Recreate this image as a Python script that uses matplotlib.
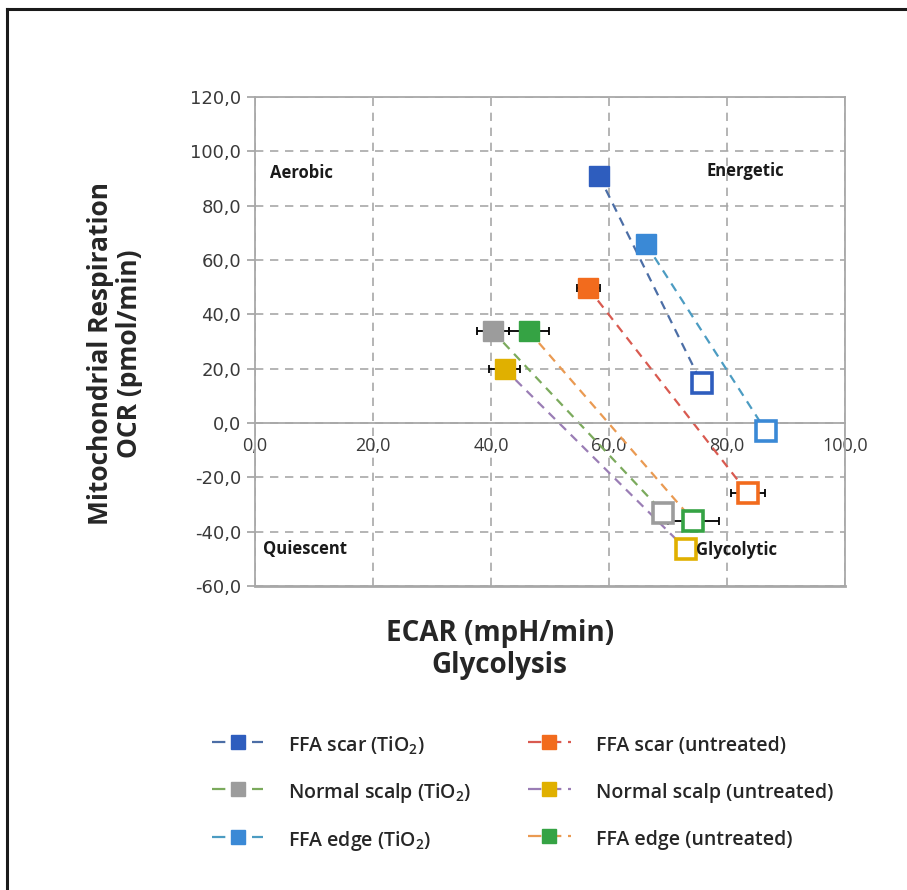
import matplotlib
matplotlib.use("Agg")
import matplotlib.pyplot as plt
from matplotlib.lines import Line2D

plt.rcParams["font.family"] = ["Open Sans", "DejaVu Sans"]
plt.rcParams["mathtext.fontset"] = "custom"
plt.rcParams["mathtext.rm"] = "Open Sans:semibold"
plt.rcParams["mathtext.bf"] = "Open Sans:bold"
plt.rcParams["mathtext.default"] = "rm"

# Seahorse energy map: ECAR (x) vs OCR (y), start (filled) -> end (open)
labels = ["FFA scar (TiO$_2$)", "FFA scar (untreated)",
          "Normal scalp (TiO$_2$)", "Normal scalp (untreated)",
          "FFA edge (TiO$_2$)", "FFA edge (untreated)"]
ecar_start = [58.3, 56.5, 40.3, 42.3, 66.3, 46.4]
ocr_start = [91.0, 49.6, 33.8, 19.9, 65.8, 33.8]
ecar_end = [75.7, 83.5, 69.2, 73.0, 86.6, 74.3]
ocr_end = [14.7, -25.7, -33.0, -46.3, -2.9, -36.0]
ecar_err_start = [0.8, 2.0, 2.7, 2.6, 0.0, 3.4]
ecar_err_end = [0.0, 2.9, 0.0, 0.0, 0.0, 4.3]

marker_colors = ["#2E5DBE", "#F26B1D", "#9C9C9C", "#E0B000", "#3A89D6", "#35A344"]
line_colors = ["#4C6EA6", "#D95A50", "#7BAA5C", "#9A7DB5", "#4C9CC2", "#EA9A52"]

x_ticks = [0, 20, 40, 60, 80, 100]
x_tick_labels = ["0,0", "20,0", "40,0", "60,0", "80,0", "100,0"]
y_ticks = [-60, -40, -20, 0, 20, 40, 60, 80, 100, 120]
y_tick_labels = ["-60,0", "-40,0", "-20,0", "0,0", "20,0", "40,0",
                 "60,0", "80,0", "100,0", "120,0"]

quadrants = ["Aerobic", "Energetic", "Quiescent", "Glycolytic"]
quad_x = [2.5, 76.5, 1.4, 74.8]
quad_y = [92.0, 92.6, -46.3, -46.7]

# TiO2 series in the left legend column, untreated in the right one
tio2_idx = [0, 2, 4]
untreated_idx = [1, 3, 5]

fig = plt.figure(figsize=(9.07, 8.90), dpi=100)
ax = fig.add_axes([0.2811, 0.3416, 0.6505, 0.5494])

grid_col = "#A8A8A8"
tick_col = "#3A3A3A"
ax.set_xlim(0, 100)
ax.set_ylim(-60, 120)
ax.set_xticks(x_ticks)
ax.set_xticklabels(x_tick_labels, fontfamily="DejaVu Sans")
ax.set_yticks(y_ticks)
ax.set_yticklabels(y_tick_labels, fontfamily="DejaVu Sans")
ax.grid(True, color=grid_col, linestyle=(0, (5, 4)), linewidth=1.2)
ax.set_axisbelow(True)

for s in ax.spines.values():
    s.set_color(grid_col)
    s.set_linewidth(1.3)
ax.spines["bottom"].set_position(("data", 0))
ax.axhline(-60, color=grid_col, linewidth=2.0, clip_on=False, zorder=0.5)
ax.tick_params(axis="x", length=0, pad=10, labelsize=13, colors=tick_col)
ax.tick_params(axis="y", length=6, pad=4, labelsize=13, colors=tick_col,
               color=grid_col, width=1.3)
ax.tick_params(axis="x", color=grid_col)

handles = []
for i in range(len(labels)):
    ax.plot([ecar_start[i], ecar_end[i]], [ocr_start[i], ocr_end[i]],
            color=line_colors[i], linestyle=(0, (4, 3)), linewidth=1.6, zorder=2)
    ax.errorbar(ecar_start[i], ocr_start[i], xerr=ecar_err_start[i],
                fmt="none", ecolor="black", elinewidth=1.3, capsize=3,
                capthick=1.3, zorder=3)
    if ecar_err_end[i] > 0:
        ax.errorbar(ecar_end[i], ocr_end[i], xerr=ecar_err_end[i],
                    fmt="none", ecolor="black", elinewidth=1.3, capsize=3,
                    capthick=1.3, zorder=3)
    ax.plot(ecar_start[i], ocr_start[i], marker="s", markersize=14,
            markerfacecolor=marker_colors[i], markeredgecolor=marker_colors[i],
            linestyle="none", zorder=4)
    ax.plot(ecar_end[i], ocr_end[i], marker="s", markersize=14.5,
            markerfacecolor="white", markeredgecolor=marker_colors[i],
            markeredgewidth=2.6, linestyle="none", zorder=4)
    handles.append(Line2D([], [], color=line_colors[i], linestyle=(0, (6, 3)),
                          linewidth=1.6, marker="s", markersize=10,
                          markerfacecolor=marker_colors[i],
                          markeredgecolor=marker_colors[i], label=labels[i]))

for name, qx, qy in zip(quadrants, quad_x, quad_y):
    ax.text(qx, qy, name, fontsize=12, fontweight="bold", color="#1A1A1A",
            ha="left", va="center", zorder=5)

fig.text(0.127, 0.603, "Mitochondrial Respiration\nOCR (pmol/min)",
         rotation=90, ha="center", va="center", multialignment="center",
         fontsize=19, fontweight="bold", color="#262626", linespacing=1.1)
fig.text(0.551, 0.270, "ECAR (mpH/min)\nGlycolysis", ha="center", va="center",
         multialignment="center", fontsize=20, fontweight="bold",
         color="#262626", linespacing=1.15)

leg_kw = dict(loc="upper left", frameon=False, borderpad=0, borderaxespad=0,
              prop={"size": 14, "weight": "semibold"}, handleheight=1.6,
              handletextpad=1.3, labelspacing=1.13, labelcolor="#262626")
fig.legend(handles=[handles[k] for k in tio2_idx],
           bbox_to_anchor=(0.234, 0.177), handlelength=2.6, **leg_kw)
fig.legend(handles=[handles[k] for k in untreated_idx],
           bbox_to_anchor=(0.582, 0.177), handlelength=2.2, **leg_kw)

# outer frame (top and left edges)
fig.add_artist(Line2D([0.0077, 0.0077], [0.0, 0.990], color="#1A1A1A",
                      linewidth=2.2, transform=fig.transFigure))
fig.add_artist(Line2D([0.0077, 1.0], [0.990, 0.990], color="#1A1A1A",
                      linewidth=2.2, transform=fig.transFigure))

fig.savefig("out.png", dpi=100, facecolor="white")
